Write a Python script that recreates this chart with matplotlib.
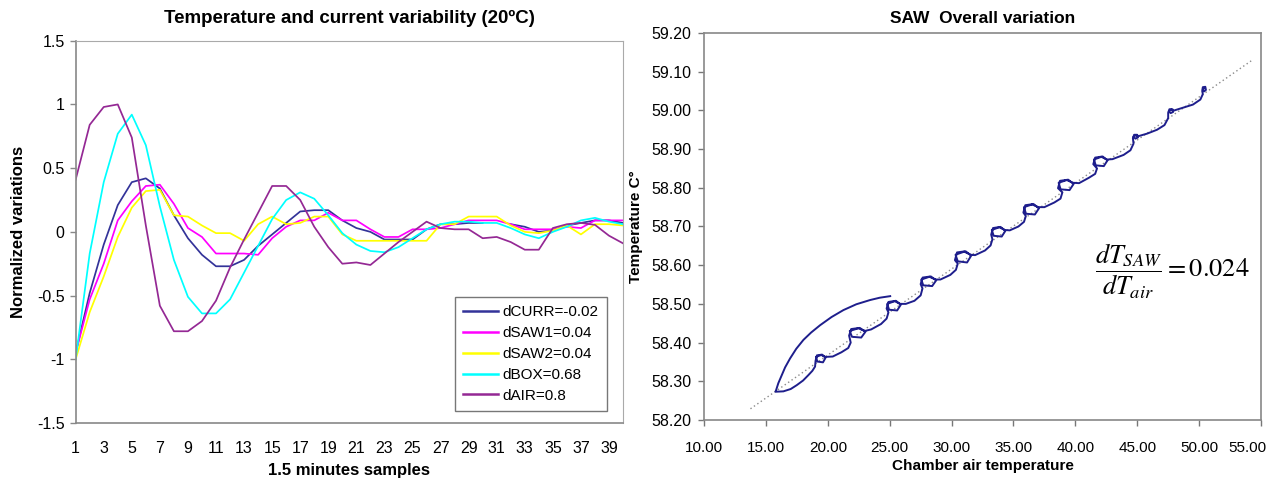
import numpy as np
import matplotlib
matplotlib.use("Agg")
import matplotlib.pyplot as plt
from matplotlib.transforms import ScaledTranslation

plt.rcParams['font.family'] = ['Liberation Sans', 'DejaVu Sans']
plt.rcParams['mathtext.fontset'] = 'stix'

# ---- left chart: normalized variations per 1.5 min sample ----
samples = np.arange(1, 41)

d_curr = [-0.95, -0.48, -0.10, 0.21, 0.39, 0.42, 0.34, 0.13, -0.05, -0.18,
          -0.27, -0.27, -0.22, -0.11, -0.02, 0.07, 0.16, 0.17, 0.17, 0.09,
          0.03, 0.00, -0.06, -0.06, -0.06, 0.02, 0.06, 0.06, 0.07, 0.07,
          np.nan, 0.06, 0.04, 0.00, 0.01, 0.05, 0.07, 0.09, 0.09, 0.07]
d_saw1 = [-0.95, -0.53, -0.25, 0.09, 0.24, 0.36, 0.37, 0.22, 0.03, -0.04,
          -0.17, -0.17, -0.17, -0.18, -0.05, 0.04, 0.09, 0.09, 0.15, 0.09,
          0.09, 0.02, -0.04, -0.04, 0.02, 0.02, 0.03, 0.06, 0.09, 0.09,
          0.09, 0.06, 0.02, 0.02, 0.02, 0.04, 0.03, 0.09, 0.09, 0.09]
d_saw2 = [-1.00, -0.63, -0.35, -0.04, 0.19, 0.32, 0.33, 0.13, 0.12, 0.05,
          -0.01, -0.01, -0.07, 0.06, 0.12, 0.06, 0.07, 0.12, 0.12, -0.02,
          -0.07, -0.07, -0.07, -0.07, -0.07, -0.07, 0.06, 0.06, 0.12, 0.12,
          0.12, 0.05, 0.00, -0.01, 0.01, 0.05, -0.02, 0.06, 0.06, 0.05]
d_box = [-1.00, -0.17, 0.39, 0.77, 0.92, 0.68, 0.20, -0.22, -0.51, -0.64,
         -0.64, -0.53, -0.32, -0.11, 0.10, 0.25, 0.31, 0.26, 0.13, -0.01,
         -0.10, -0.15, -0.16, -0.12, -0.05, 0.02, 0.06, 0.08, 0.08, 0.07,
         0.07, 0.03, -0.02, -0.05, 0.00, 0.04, 0.09, 0.11, 0.08, 0.06]
d_air = [0.41, 0.84, 0.98, 1.00, 0.74, 0.05, -0.58, -0.78, -0.78, -0.70,
         -0.54, -0.28, -0.06, 0.15, 0.36, 0.36, 0.25, 0.04, -0.12, -0.25,
         -0.24, -0.26, -0.17, -0.08, 0.00, 0.08, 0.03, 0.02, 0.02, -0.05,
         -0.04, -0.08, -0.14, -0.14, 0.03, 0.06, 0.07, 0.055, -0.03, -0.09]

series_labels = ['dCURR=-0.02', 'dSAW1=0.04', 'dSAW2=0.04', 'dBOX=0.68', 'dAIR=0.8']
series_colors = ['#333399', '#ff00ff', '#ffff00', '#00ffff', '#942894']

# ---- right chart: SAW temperature vs chamber air temperature ----
saw_path = [
    # warm-up arc
    (25.04, 58.520), (24.2, 58.516), (23.42, 58.510), (22.3, 58.499), (21.26, 58.484),
    (20.3, 58.466), (19.38, 58.445), (18.65, 58.426), (18.03, 58.407), (17.45, 58.384),
    (16.95, 58.359), (16.55, 58.336), (16.28, 58.316), (16.0, 58.295), (15.82, 58.277),
    (15.77, 58.273), (16.41, 58.274), (17.0, 58.280), (17.49, 58.290), (18.0, 58.302),
    (18.43, 58.316), (18.75, 58.327), (18.97, 58.338),
    # step 1
    (19.01, 58.353), (19.12, 58.367), (19.54, 58.369), (19.82, 58.361), (19.61, 58.349),
    (19.15, 58.351), (19.05, 58.363), (19.47, 58.368), (19.79, 58.363),
    (20.4, 58.364), (21.1, 58.375), (21.65, 58.386), (21.85, 58.400),
    # step 2
    (21.72, 58.418), (21.89, 58.435), (22.58, 58.438), (23.04, 58.428), (22.70, 58.413),
    (21.95, 58.415), (21.77, 58.430), (22.47, 58.437), (22.98, 58.430),
    (23.5, 58.434), (24.3, 58.448), (24.75, 58.462), (24.9, 58.478),
    # step 3
    (24.75, 58.488), (24.90, 58.505), (25.50, 58.508), (25.90, 58.498), (25.60, 58.483),
    (24.95, 58.485), (24.80, 58.500), (25.40, 58.507), (25.85, 58.500),
    (26.3, 58.500), (27.0, 58.508), (27.5, 58.522), (27.65, 58.540),
    # step 4
    (27.50, 58.551), (27.66, 58.568), (28.32, 58.571), (28.76, 58.561), (28.43, 58.546),
    (27.71, 58.548), (27.55, 58.563), (28.21, 58.570), (28.70, 58.563),
    (29.1, 58.563), (29.9, 58.575), (30.35, 58.588), (30.5, 58.604),
    # step 5
    (30.27, 58.613), (30.44, 58.633), (31.13, 58.636), (31.59, 58.625), (31.25, 58.607),
    (30.50, 58.610), (30.32, 58.627), (31.02, 58.635), (31.53, 58.627),
    (31.9, 58.626), (32.7, 58.638), (33.15, 58.651), (33.3, 58.667),
    # step 6
    (33.20, 58.679), (33.35, 58.696), (33.95, 58.699), (34.35, 58.689), (34.05, 58.674),
    (33.40, 58.676), (33.25, 58.691), (33.85, 58.698), (34.30, 58.691),
    (34.7, 58.690), (35.4, 58.700), (35.85, 58.712), (36.0, 58.727),
    # step 7
    (35.80, 58.736), (35.96, 58.755), (36.62, 58.758), (37.06, 58.747), (36.73, 58.731),
    (36.01, 58.733), (35.85, 58.750), (36.51, 58.757), (37.00, 58.750),
    (37.5, 58.750), (38.3, 58.762), (38.8, 58.772), (38.95, 58.788),
    # step 8
    (38.60, 58.799), (38.76, 58.818), (39.42, 58.821), (39.86, 58.810), (39.53, 58.794),
    (38.81, 58.796), (38.65, 58.813), (39.31, 58.820), (39.80, 58.813),
    (40.3, 58.812), (41.1, 58.826), (41.6, 58.836), (41.75, 58.850),
    # step 9
    (41.45, 58.861), (41.60, 58.878), (42.20, 58.881), (42.60, 58.871), (42.30, 58.856),
    (41.65, 58.858), (41.50, 58.873), (42.10, 58.880), (42.55, 58.873),
    (43.0, 58.874), (43.9, 58.885), (44.45, 58.897), (44.7, 58.914),
    # step 10
    (44.65, 58.928), (44.75, 58.937), (45.0, 58.937), (45.05, 58.930), (44.85, 58.927),
    (44.7, 58.932), (44.9, 58.936), (45.05, 58.933),
    (45.8, 58.940), (46.6, 58.950), (47.2, 58.962), (47.5, 58.980),
    # step 11
    (47.5, 58.994), (47.6, 59.003), (47.85, 59.003), (47.9, 58.996), (47.7, 58.993),
    (47.55, 58.998), (47.75, 59.002), (47.9, 58.999),
    (48.6, 59.006), (49.5, 59.015), (50.1, 59.028), (50.3, 59.042),
    # step 12
    (50.25, 59.050), (50.3, 59.060), (50.5, 59.061), (50.55, 59.053), (50.4, 59.049),
    (50.3, 59.055), (50.45, 59.059),
]
saw_T = [p[0] for p in saw_path]
saw_v = [p[1] for p in saw_path]

trend_T = [13.75, 54.25]
trend_v = [58.229, 59.129]

fig = plt.figure(figsize=(12.78, 4.79), dpi=100)

# left chart
ax1 = fig.add_axes([0.0592, 0.1169, 0.4283, 0.7981])
all_series = [d_curr, d_saw1, d_saw2, d_box, d_air]
for vals, lab, col in zip(all_series, series_labels, series_colors):
    ax1.plot(samples, vals, color=col, lw=1.25, label=lab)
ax1.set_xlim(1, 40)
ax1.set_ylim(-1.5, 1.5)
ax1.set_xticks(np.arange(1, 40, 2))
ax1.set_yticks([-1.5, -1, -0.5, 0, 0.5, 1, 1.5])
ax1.set_yticklabels(['-1.5', '-1', '-0.5', '0', '0.5', '1', '1.5'])
ax1.tick_params(axis='x', length=0, pad=13, labelsize=11.5)
ax1.tick_params(axis='y', length=4, width=1, color='#888888', pad=4, labelsize=11.5)
for side in ['left', 'bottom']:
    ax1.spines[side].set_color('#888888')
    ax1.spines[side].set_linewidth(1.2)
for side in ['top', 'right']:
    ax1.spines[side].set_color('#aaaaaa')
ax1.set_title('Temperature and current variability (20ºC)', fontsize=13.5,
              fontweight='bold', pad=13)
ax1.set_xlabel('1.5 minutes samples', fontsize=12, fontweight='bold', labelpad=5)
ax1.set_ylabel('Normalized variations', fontsize=12, fontweight='bold', labelpad=8)
leg = ax1.legend(loc='lower right', bbox_to_anchor=(0.971, 0.031), fontsize=11,
                 frameon=True, fancybox=False, handlelength=2.3, labelspacing=0.45,
                 borderpad=0.55, handletextpad=0.3, borderaxespad=0)
leg.get_frame().set_edgecolor('#555555')
leg.get_frame().set_linewidth(1.0)
for line in leg.get_lines():
    line.set_linewidth(1.8)

# right chart
ax2 = fig.add_axes([0.5509, 0.1232, 0.4358, 0.8079])
ax2.plot(trend_T, trend_v, color='#8a8a8a', lw=1.0, linestyle=(0, (1, 2)))
ax2.plot(saw_T, saw_v, color='#1e1e8c', lw=1.4, solid_joinstyle='round')
ax2.set_xlim(10, 55)
ax2.set_ylim(58.2, 59.2)
ax2.set_xticks(np.arange(10, 56, 5))
ax2.set_yticks(np.arange(58.2, 59.21, 0.1))
ax2.xaxis.set_major_formatter(matplotlib.ticker.FormatStrFormatter('%.2f'))
ax2.yaxis.set_major_formatter(matplotlib.ticker.FormatStrFormatter('%.2f'))
ax2.tick_params(length=4, width=1, color='#777777', labelsize=11.5)
ax2.tick_params(axis='x', pad=11, labelsize=11)
ax2.tick_params(axis='y', pad=5)
for side in ax2.spines:
    ax2.spines[side].set_color('#888888')
    ax2.spines[side].set_linewidth(1.2)
ax2.set_title('SAW  Overall variation', fontsize=12.5, fontweight='bold', pad=7)
ax2.set_xlabel('Chamber air temperature', fontsize=11, fontweight='bold', labelpad=3)
ax2.set_ylabel('Temperature C°', fontsize=11, fontweight='bold', labelpad=6)
ax2.text(0.84, 0.385, r'$\dfrac{dT_{SAW}}{dT_{air}} = 0.024$', transform=ax2.transAxes,
         fontsize=19, ha='center', va='center')

# keep the last x label inside the figure, as Excel does
fig.canvas.draw()
last = ax2.get_xticklabels()[-1]
last.set_transform(last.get_transform() + ScaledTranslation(-14 / 100, 0, fig.dpi_scale_trans))

fig.savefig('out.png', dpi=100)
